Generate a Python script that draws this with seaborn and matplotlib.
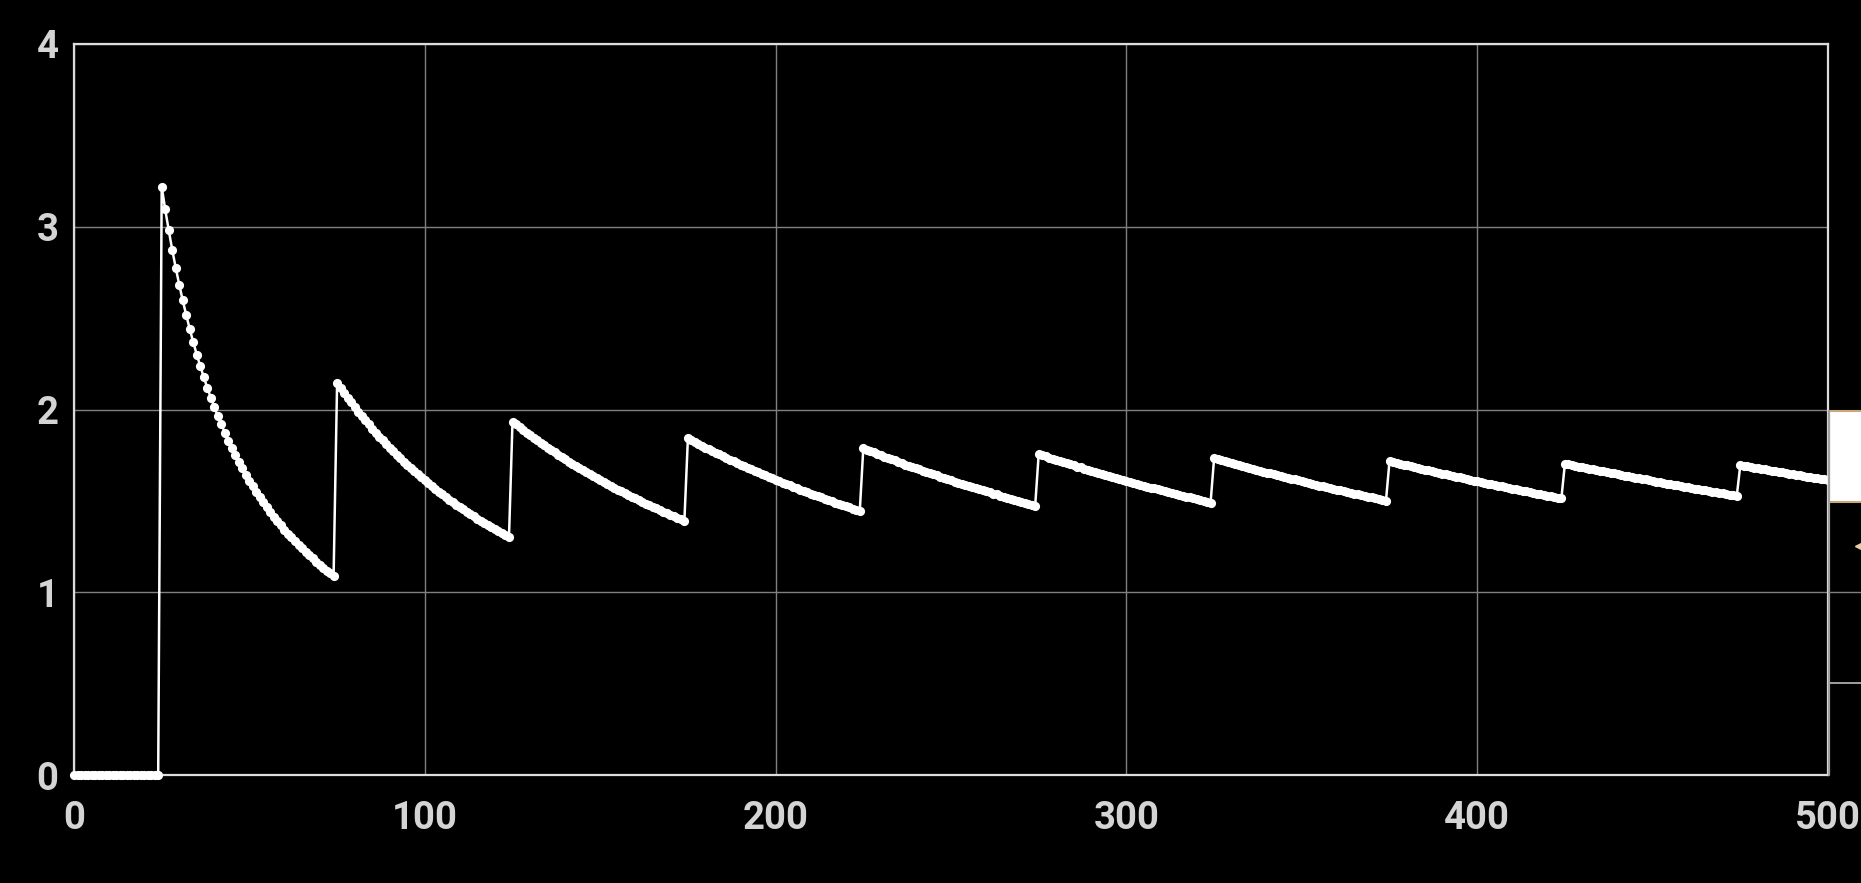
import numpy as np
import pandas as pd
import seaborn as sns
import matplotlib.pyplot as plt
from matplotlib.patches import Rectangle
from matplotlib.lines import Line2D

# concentration, one value per time step (t = 0..500)
before_first_dose = [0.0] * 25
dose1 = [3.219, 3.095, 2.981, 2.874, 2.775, 2.683, 2.597, 2.516, 2.440, 2.368,
         2.300, 2.237, 2.176, 2.119, 2.065, 2.013, 1.964, 1.918, 1.873, 1.830,
         1.790, 1.751, 1.714, 1.678, 1.644, 1.611, 1.580, 1.549, 1.520, 1.492,
         1.465, 1.439, 1.413, 1.389, 1.366, 1.343, 1.321, 1.300, 1.279, 1.259,
         1.240, 1.221, 1.203, 1.185, 1.168, 1.151, 1.135, 1.119, 1.104, 1.089]
dose2 = [2.147, 2.119, 2.091, 2.065, 2.039, 2.013, 1.988, 1.964, 1.941, 1.918,
         1.895, 1.873, 1.852, 1.831, 1.811, 1.791, 1.771, 1.752, 1.733, 1.715,
         1.697, 1.679, 1.662, 1.645, 1.628, 1.612, 1.596, 1.581, 1.565, 1.550,
         1.536, 1.521, 1.507, 1.493, 1.479, 1.466, 1.453, 1.440, 1.427, 1.415,
         1.403, 1.390, 1.379, 1.367, 1.356, 1.344, 1.333, 1.322, 1.312, 1.301]
dose3 = [1.933, 1.918, 1.903, 1.888, 1.874, 1.859, 1.845, 1.832, 1.818, 1.804,
         1.791, 1.778, 1.765, 1.752, 1.740, 1.727, 1.715, 1.703, 1.691, 1.680,
         1.668, 1.657, 1.646, 1.635, 1.624, 1.613, 1.603, 1.592, 1.582, 1.572,
         1.562, 1.552, 1.542, 1.532, 1.523, 1.513, 1.504, 1.495, 1.485, 1.476,
         1.467, 1.459, 1.450, 1.441, 1.433, 1.425, 1.416, 1.408, 1.400, 1.392]
dose4 = [1.842, 1.832, 1.822, 1.812, 1.802, 1.792, 1.782, 1.772, 1.763, 1.754,
         1.744, 1.735, 1.726, 1.717, 1.708, 1.699, 1.690, 1.682, 1.673, 1.665,
         1.656, 1.648, 1.640, 1.632, 1.624, 1.616, 1.608, 1.600, 1.592, 1.585,
         1.577, 1.569, 1.562, 1.554, 1.547, 1.540, 1.533, 1.526, 1.519, 1.511,
         1.505, 1.498, 1.491, 1.484, 1.478, 1.471, 1.464, 1.458, 1.451, 1.445]
dose5 = [1.788, 1.780, 1.772, 1.765, 1.757, 1.750, 1.742, 1.735, 1.728, 1.721,
         1.714, 1.706, 1.699, 1.692, 1.685, 1.678, 1.672, 1.665, 1.658, 1.652,
         1.645, 1.639, 1.632, 1.626, 1.619, 1.613, 1.606, 1.600, 1.594, 1.588,
         1.582, 1.576, 1.570, 1.564, 1.558, 1.552, 1.546, 1.540, 1.535, 1.529,
         1.523, 1.518, 1.512, 1.506, 1.501, 1.495, 1.490, 1.485, 1.479, 1.474]
dose6 = [1.756, 1.750, 1.743, 1.737, 1.731, 1.724, 1.718, 1.712, 1.706, 1.700,
         1.694, 1.688, 1.683, 1.677, 1.671, 1.665, 1.659, 1.654, 1.648, 1.643,
         1.637, 1.631, 1.626, 1.620, 1.615, 1.610, 1.604, 1.599, 1.594, 1.589,
         1.583, 1.578, 1.573, 1.568, 1.563, 1.558, 1.553, 1.548, 1.543, 1.538,
         1.533, 1.528, 1.523, 1.519, 1.514, 1.509, 1.504, 1.500, 1.495, 1.491]
dose7 = [1.733, 1.728, 1.722, 1.717, 1.712, 1.706, 1.701, 1.696, 1.691, 1.685,
         1.680, 1.675, 1.670, 1.665, 1.660, 1.655, 1.650, 1.645, 1.640, 1.636,
         1.631, 1.626, 1.621, 1.617, 1.612, 1.607, 1.602, 1.598, 1.593, 1.589,
         1.584, 1.580, 1.575, 1.571, 1.566, 1.562, 1.557, 1.553, 1.548, 1.544,
         1.540, 1.536, 1.531, 1.527, 1.523, 1.519, 1.514, 1.510, 1.506, 1.502]
dose8 = [1.717, 1.712, 1.708, 1.703, 1.698, 1.694, 1.689, 1.685, 1.680, 1.676,
         1.671, 1.667, 1.663, 1.658, 1.654, 1.649, 1.645, 1.641, 1.637, 1.632,
         1.628, 1.624, 1.620, 1.616, 1.611, 1.607, 1.603, 1.599, 1.595, 1.591,
         1.587, 1.583, 1.579, 1.575, 1.571, 1.567, 1.563, 1.560, 1.556, 1.552,
         1.548, 1.544, 1.540, 1.537, 1.533, 1.529, 1.526, 1.522, 1.518, 1.514]
dose9 = [1.704, 1.700, 1.696, 1.692, 1.688, 1.684, 1.680, 1.676, 1.672, 1.669,
         1.665, 1.661, 1.657, 1.653, 1.650, 1.646, 1.642, 1.638, 1.635, 1.631,
         1.627, 1.624, 1.620, 1.617, 1.613, 1.609, 1.606, 1.602, 1.599, 1.595,
         1.592, 1.588, 1.585, 1.581, 1.578, 1.574, 1.571, 1.567, 1.564, 1.561,
         1.557, 1.554, 1.551, 1.548, 1.544, 1.541, 1.538, 1.534, 1.531, 1.528]
dose10 = [1.696, 1.693, 1.689, 1.686, 1.682, 1.679, 1.676, 1.672, 1.669, 1.666,
          1.662, 1.659, 1.656, 1.652, 1.649, 1.646, 1.643, 1.639, 1.636, 1.633,
          1.630, 1.627, 1.623, 1.620, 1.617, 1.614]

x_ticks = [0, 100, 200, 300, 400, 500]
y_ticks = [0, 1, 2, 3, 4]

conc = (before_first_dose + dose1 + dose2 + dose3 + dose4 + dose5
        + dose6 + dose7 + dose8 + dose9 + dose10)
df = pd.DataFrame({"time": np.arange(len(conc)), "conc": conc})

sns.set_style("dark")
plt.rcParams["font.family"] = ["Roboto", "DejaVu Sans"]

fig = plt.figure(figsize=(18.61, 8.83), dpi=100, facecolor="black")
ax = fig.add_axes([74 / 1861, 108 / 883, 1754 / 1861, 731 / 883])
ax.set_facecolor("black")

sns.lineplot(data=df, x="time", y="conc", ax=ax, color="white",
             linewidth=1.8, marker="o", markersize=6.6, markeredgewidth=0,
             zorder=5, clip_on=False)

ax.set_xlim(0, 500)
ax.set_ylim(0, 4)
ax.set_xticks(x_ticks)
ax.set_yticks(y_ticks)
ax.grid(True, color="#808080", linewidth=1)
ax.set_axisbelow(True)
ax.set_xlabel("")
ax.set_ylabel("")
for s in ax.spines.values():
    s.set_visible(True)
    s.set_color("#dcdcdc")
    s.set_linewidth(1.6)
ax.tick_params(axis="both", length=0, colors="#d4d4d4", labelsize=27.5)
ax.tick_params(axis="x", pad=18)
ax.tick_params(axis="y", pad=11)
for lab in ax.get_xticklabels() + ax.get_yticklabels():
    lab.set_fontweight("bold")

# clipped panel peeking in at the right edge
fig.add_artist(Line2D([1829 / 1861, 1829 / 1861], [108 / 883, 472 / 883],
                      transform=fig.transFigure, color="#a0a0a0", lw=1.6))
fig.add_artist(Line2D([1829 / 1861, 1], [291 / 883, 291 / 883],
                      transform=fig.transFigure, color="#808080", lw=1))
fig.add_artist(Line2D([1829 / 1861, 1], [200 / 883, 200 / 883],
                      transform=fig.transFigure, color="#a0a0a0", lw=1.4))
fig.add_artist(Rectangle((1829 / 1861, 381 / 883), 40 / 1861, 91 / 883,
                         transform=fig.transFigure, facecolor="white",
                         edgecolor="#c9a97a", lw=1.5))
fig.add_artist(Line2D([1859 / 1861], [337 / 883], transform=fig.transFigure,
                      marker="<", color="#e8cfa0", markersize=6, lw=0))

fig.savefig("out.png", dpi=100, facecolor="black")
